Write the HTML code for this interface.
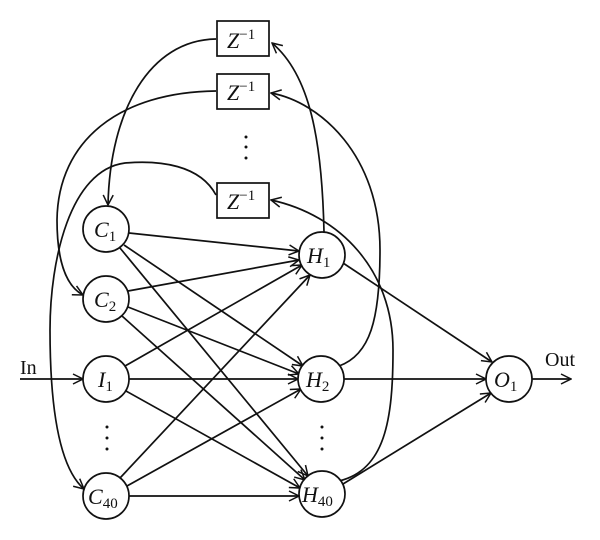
<!DOCTYPE html>
<html><head><style>
html,body{margin:0;padding:0;background:#fff;}
svg{display:block;}
text{font-family:"Liberation Serif",serif;fill:#111;}
.it{font-style:italic;}
</style></head><body>
<svg width="600" height="540" viewBox="0 0 600 540" xmlns="http://www.w3.org/2000/svg">
<defs>
<marker id="a" viewBox="0 0 12 12" refX="11" refY="6" markerWidth="12" markerHeight="12" markerUnits="userSpaceOnUse" orient="auto">
<polyline points="1,1 11,6 1,11" fill="none" stroke="#111" stroke-width="1.5"/>
</marker>
</defs>
<g fill="none" stroke="#111" stroke-width="1.7">
<rect x="217" y="21" width="52" height="35" fill="#fff"/>
<rect x="217" y="74" width="52" height="35" fill="#fff"/>
<rect x="217" y="183" width="52" height="35" fill="#fff"/>
<path d="M216,39 C150,40 110,110 108,205" marker-end="url(#a)"/>
<path d="M216,91 C120,92 58,140 57,220 C57,265 68,287 83,295" marker-end="url(#a)"/>
<path d="M216,195 C200,165 160,160 125,163 C70,170 50,260 50,330 C50,420 62,470 84,489" marker-end="url(#a)"/>
<path d="M324,232 C322,140 310,75 272,43" marker-end="url(#a)"/>
<path d="M339,366 C370,355 380,320 380,250 C380,155 320,102 271,93" marker-end="url(#a)"/>
<path d="M339,481 C385,470 393,420 393,350 C393,270 340,215 271,200" marker-end="url(#a)"/>
<path d="M129,233 L299,251" marker-end="url(#a)"/>
<path d="M124,245 L303,366" marker-end="url(#a)"/>
<path d="M120,248 L308,476" marker-end="url(#a)"/>
<path d="M128,291 L299,260" marker-end="url(#a)"/>
<path d="M128,307 L299,374" marker-end="url(#a)"/>
<path d="M122,316 L305,480" marker-end="url(#a)"/>
<path d="M125,366 L302,265" marker-end="url(#a)"/>
<path d="M129,379 L298,379" marker-end="url(#a)"/>
<path d="M126,391 L300,488" marker-end="url(#a)"/>
<path d="M120,478 L310,275" marker-end="url(#a)"/>
<path d="M127,486 L301,389" marker-end="url(#a)"/>
<path d="M129,496 L299,496" marker-end="url(#a)"/>
<path d="M343,263 L492,362" marker-end="url(#a)"/>
<path d="M344,379 L486,379" marker-end="url(#a)"/>
<path d="M343,484 L491,393" marker-end="url(#a)"/>
<path d="M20,379 L83,379" marker-end="url(#a)"/>
<path d="M532,379 L571,379" marker-end="url(#a)"/>
<circle cx="106" cy="229" r="23" fill="#fff"/>
<circle cx="106" cy="299" r="23" fill="#fff"/>
<circle cx="106" cy="379" r="23" fill="#fff"/>
<circle cx="106" cy="496" r="23" fill="#fff"/>
<circle cx="322" cy="255" r="23" fill="#fff"/>
<circle cx="321" cy="379" r="23" fill="#fff"/>
<circle cx="322" cy="494" r="23" fill="#fff"/>
<circle cx="509" cy="379" r="23" fill="#fff"/>
</g>
<g fill="#111">
<circle cx="246" cy="137" r="1.5"/><circle cx="246" cy="147" r="1.5"/><circle cx="246" cy="158" r="1.5"/>
<circle cx="107" cy="427" r="1.5"/><circle cx="107" cy="438" r="1.5"/><circle cx="107" cy="449" r="1.5"/>
<circle cx="322" cy="427" r="1.5"/><circle cx="322" cy="438" r="1.5"/><circle cx="322" cy="449" r="1.5"/>
</g>
<g font-size="22">
<text x="227" y="48" class="it">Z<tspan font-size="15" font-style="normal" dy="-9">−1</tspan></text>
<text x="227" y="100" class="it">Z<tspan font-size="15" font-style="normal" dy="-9">−1</tspan></text>
<text x="227" y="209" class="it">Z<tspan font-size="15" font-style="normal" dy="-9">−1</tspan></text>
<text x="94" y="237" class="it">C<tspan font-size="15" font-style="normal" dy="4">1</tspan></text>
<text x="94" y="307" class="it">C<tspan font-size="15" font-style="normal" dy="4">2</tspan></text>
<text x="98" y="387" class="it">I<tspan font-size="15" font-style="normal" dy="4">1</tspan></text>
<text x="88" y="504" class="it">C<tspan font-size="15" font-style="normal" dy="4">40</tspan></text>
<text x="307" y="263" class="it">H<tspan font-size="15" font-style="normal" dy="4">1</tspan></text>
<text x="306" y="387" class="it">H<tspan font-size="15" font-style="normal" dy="4">2</tspan></text>
<text x="302" y="502" class="it">H<tspan font-size="15" font-style="normal" dy="4">40</tspan></text>
<text x="494" y="387" class="it">O<tspan font-size="15" font-style="normal" dy="4">1</tspan></text>
<text x="20" y="374" font-size="20">In</text>
<text x="545" y="366" font-size="20">Out</text>
</g>
</svg>
</body></html>
